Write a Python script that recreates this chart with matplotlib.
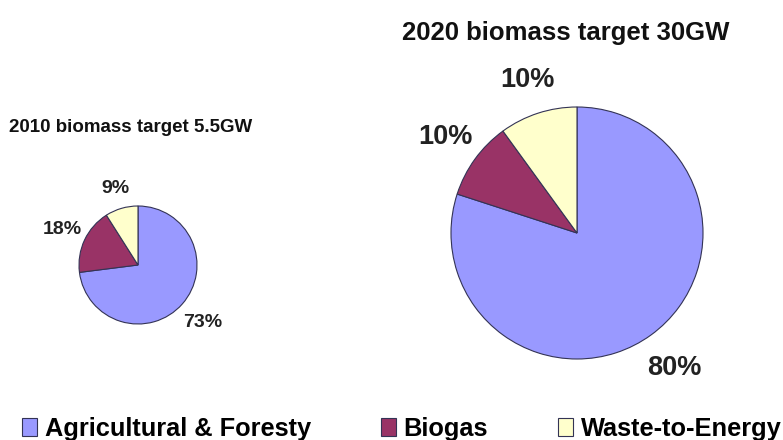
import numpy as np
from matplotlib import pyplot as plt

categories = ['Agricultural & Foresty', 'Biogas', 'Waste-to-Energy']
share_2010 = [73, 18, 9]
share_2020 = [80, 10, 10]
pct_2010 = ['73%', '18%', '9%']
pct_2020 = ['80%', '10%', '10%']
title_2010 = '2010 biomass target 5.5GW'
title_2020 = '2020 biomass target 30GW'

colors = ['#9999FF', '#993366', '#FFFFCC']

W, H = 783, 440
fig = plt.figure(figsize=(W / 100, H / 100), dpi=100)
ax = fig.add_axes([0, 0, 1, 1])


def draw_pie(vals, labels, center, r, dists, fs):
    wedges, _ = ax.pie(vals, colors=colors, startangle=90, counterclock=False,
                       center=center, radius=r,
                       wedgeprops=dict(edgecolor='#333355', linewidth=0.8))
    for w, lab, d in zip(wedges, labels, dists):
        mid = np.deg2rad((w.theta1 + w.theta2) / 2)
        ax.text(center[0] + d * r * np.cos(mid), center[1] + d * r * np.sin(mid), lab,
                ha='center', va='center', fontsize=fs, fontweight='bold',
                family='Liberation Sans', color='#222222')
    return wedges


wedges = draw_pie(share_2010, pct_2010, (138, H - 265), 59, [1.47, 1.42, 1.35], 14)
draw_pie(share_2020, pct_2020, (577, H - 233), 126, [1.32, 1.29, 1.28], 19.5)

# pie() resets the limits, so fix them afterwards
ax.set_xlim(0, W)
ax.set_ylim(0, H)
ax.set_aspect('equal')
ax.axis('off')

ax.text(9, H - 127, title_2010, ha='left', va='center', fontsize=13.5,
        fontweight='bold', family='Liberation Sans', color='#111111')
ax.text(402, H - 33, title_2020, ha='left', va='center', fontsize=18.5,
        fontweight='bold', family='Liberation Sans', color='#111111')

ax.legend(wedges, categories, loc='center left', bbox_to_anchor=(0.005, 0.025),
          ncol=3, frameon=False, handlelength=0.6, handleheight=0.75,
          handletextpad=0.3, columnspacing=2.75, borderaxespad=0.3,
          prop=dict(family='Liberation Sans', weight='bold', size=18.3))

fig.savefig('out.png', dpi=100)
